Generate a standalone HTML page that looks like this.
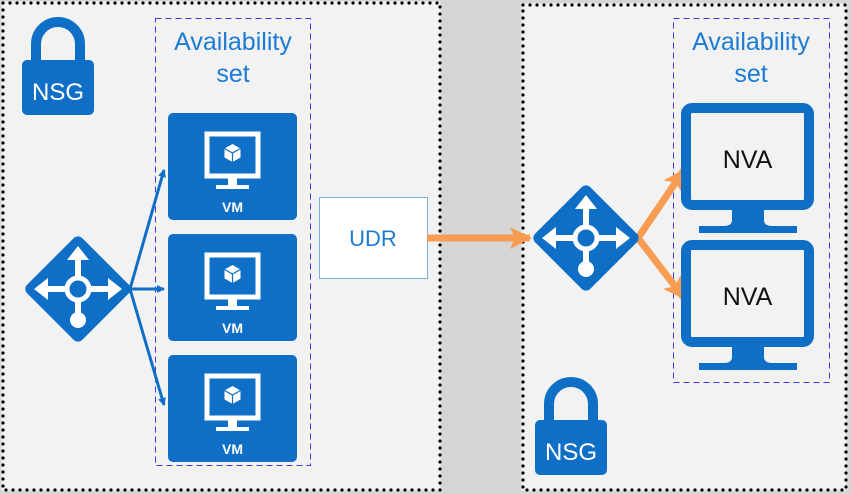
<!DOCTYPE html>
<html><head><style>
body{margin:0;width:851px;height:494px;overflow:hidden;background:#d6d6d6;font-family:"Liberation Sans",sans-serif}
</style></head><body>
<svg width="851" height="494" xmlns="http://www.w3.org/2000/svg" style="position:absolute;left:0;top:0">
<defs>
<marker id="ab" markerWidth="8" markerHeight="8" refX="7" refY="4" orient="auto" markerUnits="userSpaceOnUse"><path d="M0,0 L8,4 L0,8 z" fill="#0f6fc6"/></marker>
<marker id="ao" markerWidth="22" markerHeight="22" refX="20" refY="11" orient="auto" markerUnits="userSpaceOnUse"><path d="M0,0 L22,11 L0,22 L5,11 z" fill="#f79c50"/></marker>
<g id="lock"><path d="M-22,36 V20 A22,22 0 0 1 22,20 V36" fill="none" stroke="#0f6fc6" stroke-width="10"/><rect x="-36" y="36" width="72" height="55" rx="5" fill="#0f6fc6"/></g>
<g id="router"><rect x="-39" y="-39" width="78" height="78" rx="6" fill="#0f6fc6" transform="rotate(45)"/>
<g stroke="#fff" stroke-width="6" fill="#fff"><line x1="0" y1="-30" x2="0" y2="25"/><line x1="-33" y1="0" x2="33" y2="0"/></g>
<circle r="11" fill="#0f6fc6" stroke="#fff" stroke-width="5"/>
<path d="M0,-43 L-11,-29 L11,-29z M-44,0 L-30,-11 L-30,11z M44,0 L30,-11 L30,11z" fill="#fff"/><circle cy="31" r="8" fill="#fff"/></g>
<g id="vm"><rect x="0" y="0" width="129" height="107" rx="5" fill="#0f6fc6"/>
<rect x="39" y="21" width="51" height="42" fill="none" stroke="#fff" stroke-width="5"/><path d="M60,62 h9 v10 h12 v4 h-33 v-4 h12z" fill="#fff"/>
<path d="M64.5,31 l8,4.5 v9 l-8,4.5 l-8,-4.5 v-9z" fill="#fff"/><path d="M56.5,35.5 l8,4.5 l8,-4.5 M64.5,40 v9" stroke="#0f6fc6" stroke-width="1.2" fill="none"/>
<text x="64.5" y="99" fill="#fff" font-size="14" font-weight="bold" text-anchor="middle">VM</text></g>
<g id="nva"><rect x="3" y="3" width="123" height="97" fill="#f2f2f2"/>
<rect x="3" y="3" width="123" height="97" rx="6" fill="none" stroke="#0f6fc6" stroke-width="10"/>
<path d="M49,103 h32 v12 q0,6 8,6 h25 v7 h-98 v-7 h25 q8,0 8,-6z" fill="#0f6fc6"/>
<text x="64.5" y="63" font-size="25" text-anchor="middle" fill="#111">NVA</text></g>
</defs>
<rect x="1.5" y="1.5" width="439" height="489" fill="#f2f2f2"/>
<rect x="521.5" y="3.5" width="325" height="487" fill="#f2f2f2"/>
<g fill="none" stroke="#000" stroke-width="3.2" stroke-linecap="round" stroke-dasharray="0 7">
<rect x="3" y="3" width="437" height="487"/><rect x="523" y="5" width="323" height="485"/></g>
<rect x="155.5" y="18.5" width="155" height="447" fill="none" stroke="#3a3ae0" stroke-width="1" stroke-dasharray="6 4"/>
<rect x="673.5" y="18.5" width="156" height="364" fill="none" stroke="#3a3ae0" stroke-width="1" stroke-dasharray="6 4"/>
<g fill="#1c7bd2" font-size="25" text-anchor="middle" font-family="Liberation Sans,sans-serif"><text x="233" y="50">Availability</text><text x="233" y="82">set</text>
<text x="751" y="50">Availability</text><text x="751" y="82">set</text></g>
<use href="#lock" x="58" y="24"/><text x="58" y="100" fill="#fff" font-size="24" text-anchor="middle">NSG</text>
<use href="#lock" x="571" y="384"/><text x="571" y="460" fill="#fff" font-size="24" text-anchor="middle">NSG</text>
<use href="#vm" x="168" y="113"/><use href="#vm" x="168" y="234"/><use href="#vm" x="168" y="355"/>
<g stroke="#0f6fc6" stroke-width="3" fill="none"><line x1="130" y1="289" x2="164" y2="170" marker-end="url(#ab)"/><line x1="130" y1="289" x2="164" y2="289" marker-end="url(#ab)"/><line x1="130" y1="289" x2="164" y2="405" marker-end="url(#ab)"/></g>
<use href="#router" x="78" y="289"/>
<rect x="319.5" y="197.5" width="108" height="81" fill="#fff" stroke="#7aaee0"/>
<text x="373" y="246" font-size="22" text-anchor="middle" fill="#1c7bd2">UDR</text>
<g stroke="#f79c50" stroke-width="7" fill="none"><line x1="427" y1="238" x2="530" y2="238" marker-end="url(#ao)"/>
<line x1="638" y1="238" x2="684" y2="170" marker-end="url(#ao)"/><line x1="638" y1="238" x2="684" y2="298" marker-end="url(#ao)"/></g>
<use href="#router" x="586" y="238"/>
<use href="#nva" x="683" y="105"/><use href="#nva" x="683" y="242"/>
</svg>
</body></html>
